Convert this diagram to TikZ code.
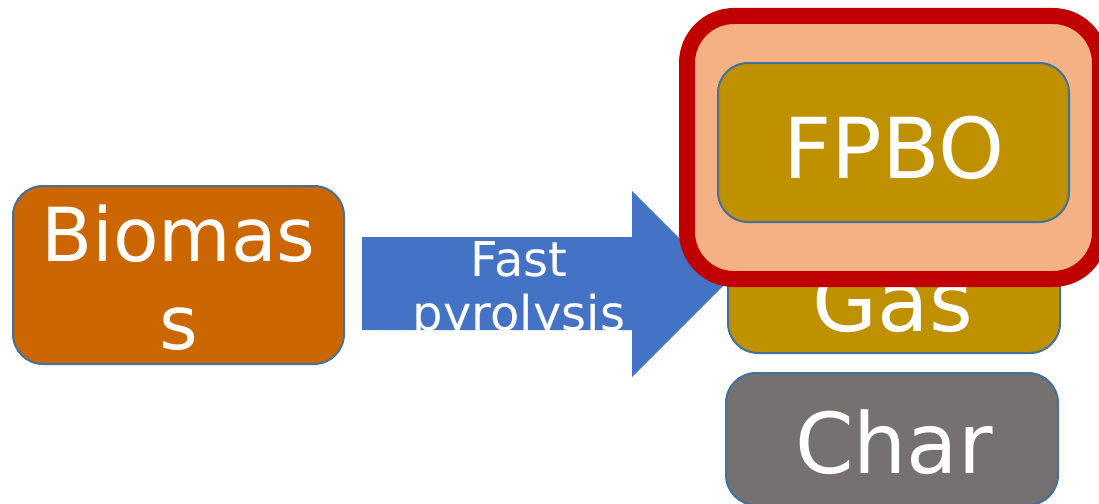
\documentclass[tikz,border=0pt]{standalone}
\usepackage{fontspec}
\setmainfont{DejaVu Sans}
\definecolor{boxline}{HTML}{41719C}
\definecolor{biomass}{HTML}{CC6600}
\definecolor{arrowblue}{HTML}{4472C4}
\definecolor{gold}{HTML}{BF9000}
\definecolor{charg}{HTML}{767171}
\definecolor{hlred}{HTML}{C00000}
\definecolor{peach}{HTML}{F4B183}
\begin{document}
\begin{tikzpicture}[x=1pt,y=-1pt,
  box/.style={draw=boxline, line width=2pt, rounded corners=30pt, inner sep=0pt},
  lbl/.style={text=white, anchor=base, inner sep=0pt},
  big/.style={font=\fontsize{84}{96}\selectfont},
  mid/.style={font=\fontsize{74.5}{88}\selectfont},
  small/.style={font=\fontsize{48}{54}\selectfont}]
\useasboundingbox (0,0) rectangle (1099,503);
\clip (0,0) rectangle (1099,503);
% arrow
\coordinate (a1) at (362,237);
\coordinate (a2) at (632,237);
\coordinate (a3) at (632,191);
\coordinate (tip) at (725,284);
\coordinate (a5) at (632,377);
\coordinate (a6) at (632,330);
\coordinate (a7) at (362,330);
\fill[arrowblue] (a1) -- (a2) -- (a3) -- (tip) -- (a5) -- (a6) -- (a7) -- cycle;
\node[lbl, small] (fast) at (519,276) {Fast};
\node[lbl, small] (pyro) at (519,330) {pyrolysis};
% biomass
\node[box, fill=biomass, minimum width=331pt, minimum height=178pt] (biomassbox) at (178.5,275) {};
\node[lbl, mid] (bm1) at (178.5,261) {Biomas};
\node[lbl, mid] (bm2) at (178.5,349) {s};
% gas and char
\node[box, fill=gold, minimum width=332pt, minimum height=128pt] (gasbox) at (894,289) {};
\node[lbl, big] (gas) at (893,331) {Gas};
\node[box, fill=charg, minimum width=332pt, minimum height=132pt] (charbox) at (892,439) {};
\node[lbl, big] (char) at (894,473) {Char};
% highlight
\node[draw=hlred, fill=peach, line width=16pt, rounded corners=47pt, inner sep=0pt,
      minimum width=413pt, minimum height=263pt] (hl) at (893.5,147.5) {};
\node[box, fill=gold, minimum width=351pt, minimum height=159pt] (fpbobox) at (893.5,142.5) {};
\node[lbl, big] (fpbo) at (894,178) {FPBO};
\end{tikzpicture}
\end{document}
